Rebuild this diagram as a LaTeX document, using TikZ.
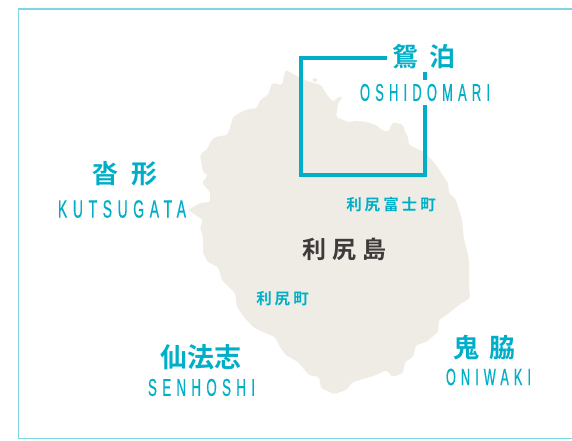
\documentclass[tikz,border=0pt]{standalone}
\usepackage{fontspec}
\usepackage{graphicx}
\newfontfamily\cjkb{Noto Sans CJK JP Bold}
\newfontfamily\latn[LetterSpace=24,FakeStretch=0.6,FakeBold=0.5]{Liberation Sans}
\definecolor{cy}{HTML}{00AFC7}
\definecolor{fr}{HTML}{7FD5E2}
\definecolor{land}{HTML}{EFECE6}
\definecolor{dk}{HTML}{3E3A39}
\newcommand{\jp}[2]{{\cjkb\fontsize{#1}{#1}\selectfont #2}}
\newcommand{\lat}[3]{\resizebox{#1pt}{#2pt}{\latn #3}}
\tikzset{
  place/.style={text=cy,inner sep=0pt,outer sep=0pt,anchor=center},
  town/.style={place},
  isle/.style={text=dk,inner sep=0pt,outer sep=0pt,anchor=center}
}
\begin{document}
\begin{tikzpicture}[x=1pt,y=-1pt]
\useasboundingbox (0,0) rectangle (572,440);
\fill[white] (0,0) rectangle (572,440);
\draw[fr,line width=1.3pt] (572,9) -- (18.6,9) -- (18.6,438.4) -- (572,438.4);
% island
\fill[land,rounded corners=1.6pt] (286,70) -- (295,75) -- (304,80) -- (314,83) -- (321,85) -- (327,95) -- (333,102) -- (338,97) -- (343,97) -- (338,103) -- (336,117) -- (348,122) -- (357,121) -- (366,122) -- (376,125) -- (382,130) -- (388,132) -- (393,122) -- (403,125) -- (405,132) -- (408,137) -- (409,145) -- (424,152) -- (430,158) -- (436,165) -- (442,174) -- (448,183) -- (449,193) -- (456,200) -- (459,210) -- (462,220) -- (464,240) -- (467,250) -- (469,260) -- (469,282) -- (470,298) -- (459,305) -- (449,313) -- (439,320) -- (438,332) -- (426,342) -- (416,345) -- (413,357) -- (405,362) -- (403,373) -- (393,377) -- (386,370) -- (376,375) -- (353,382) -- (346,390) -- (334,394) -- (321,388) -- (319,377) -- (309,375) -- (298,362) -- (286,355) -- (280,347) -- (275,337) -- (263,332) -- (253,327) -- (244,317) -- (237,307) -- (235,293) -- (222,280) -- (218,267) -- (208,262) -- (203,253) -- (203,237) -- (200,227) -- (203,220) -- (188,210) -- (200,203) -- (210,202) -- (210,192) -- (202,183) -- (208,175) -- (203,172) -- (200,155) -- (208,148) -- (210,142) -- (215,137) -- (227,135) -- (230,128) -- (233,117) -- (245,110) -- (257,108) -- (260,100) -- (268,95) -- (272,83) -- (282,85) -- (285,72) -- cycle;
\fill[land] (315,80) ellipse (2.5 and 1.8);
% bracket
\draw[cy,line width=4pt,line join=miter] (386.7,58) -- (301.3,58) -- (301.3,175) -- (425,175) -- (425,105);
\draw[cy,line width=4pt] (425,72) -- (425,80);
% labels
\node[place] (oshi) at (424,57) {\jp{26}{鴛\hspace{11pt}泊}};
\node[place] (oshil) at (425,92.5) {\lat{130}{17}{OSHIDOMARI}};
\node[place] (kutsu) at (124.5,174) {\jp{26}{沓\hspace{13pt}形}};
\node[place] (kutsul) at (122,209) {\lat{128}{17.5}{KUTSUGATA}};
\node[place] (sen) at (200.5,357) {\jp{27}{仙法志}};
\node[place] (senl) at (201.5,387.5) {\lat{107}{17}{SENHOSHI}};
\node[place] (oni) at (484.5,348) {\jp{26}{鬼\hspace{10pt}脇}};
\node[place] (onil) at (488.5,377) {\lat{85}{16.5}{ONIWAKI}};
\node[isle] (rishiri) at (344.5,249.5) {\jp{24}{利\hspace{6pt}尻\hspace{6pt}島}};
\node[town] (fuji) at (391,204.5) {\jp{15.5}{利\hspace{3pt}尻\hspace{3pt}富\hspace{3pt}士\hspace{3pt}町}};
\node[town] (cho) at (282.5,299) {\jp{15.5}{利\hspace{3pt}尻\hspace{3pt}町}};
\end{tikzpicture}
\end{document}
